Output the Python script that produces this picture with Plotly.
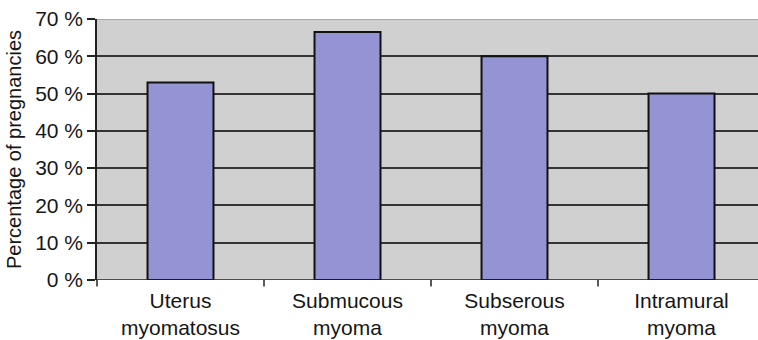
import plotly.graph_objects as go

categories = ["Uterus<br>myomatosus", "Submucous<br>myoma", "Subserous<br>myoma", "Intramural<br>myoma"]
values = [53, 66.5, 60, 50]
y_ticks = [0, 10, 20, 30, 40, 50, 60, 70]
y_tick_labels = [f"{v} %" for v in y_ticks]

font = dict(family="Liberation Sans, Arial, sans-serif", size=21, color="#161616")

fig = go.Figure(
    go.Bar(
        x=list(range(len(categories))),
        y=values,
        width=0.395,
        marker=dict(color="#9494d4", line=dict(color="#111111", width=2)),
    )
)

fig.update_layout(
    width=758,
    height=340,
    margin=dict(l=97, r=0, t=19, b=60),
    paper_bgcolor="white",
    plot_bgcolor="#d0d0d0",
    font=font,
    showlegend=False,
    xaxis=dict(
        range=[-0.5, 3.458],
        tickmode="array",
        tickvals=list(range(len(categories))),
        ticktext=categories,
        showgrid=False,
        zeroline=False,
        showline=False,
        ticks="",
        ticklabelstandoff=6,
        automargin=False,
    ),
    yaxis=dict(
        range=[0, 70],
        tickmode="array",
        tickvals=y_ticks,
        ticktext=y_tick_labels,
        showgrid=True,
        gridcolor="#333333",
        gridwidth=1.5,
        zeroline=False,
        showline=True,
        linecolor="#222222",
        linewidth=1.5,
        ticks="outside",
        ticklen=8,
        tickcolor="#222222",
        tickwidth=1.5,
        automargin=False,
        title=dict(text="Percentage of pregnancies", font=dict(size=20), standoff=8),
    ),
)

# light frame line along the top of the plotting area
fig.add_shape(type="line", xref="paper", yref="y", x0=0, x1=1, y0=70, y1=70,
              line=dict(color="#a8a8a8", width=2), layer="above")
# category axis line at zero
fig.add_shape(type="line", xref="paper", yref="y", x0=0, x1=1, y0=0, y1=0,
              line=dict(color="#222222", width=1.5), layer="above")
# value axis continues slightly below zero
fig.add_shape(type="line", xref="paper", yref="paper", x0=0, x1=0, y0=0, y1=-0.025,
              line=dict(color="#222222", width=1.5))
# category separator ticks below the axis
for b in [0.5, 1.5, 2.5]:
    fig.add_shape(type="line", xref="x", yref="paper", x0=b, x1=b, y0=0, y1=-0.025,
                  line=dict(color="#222222", width=1.5))

fig.write_html("out.html")
